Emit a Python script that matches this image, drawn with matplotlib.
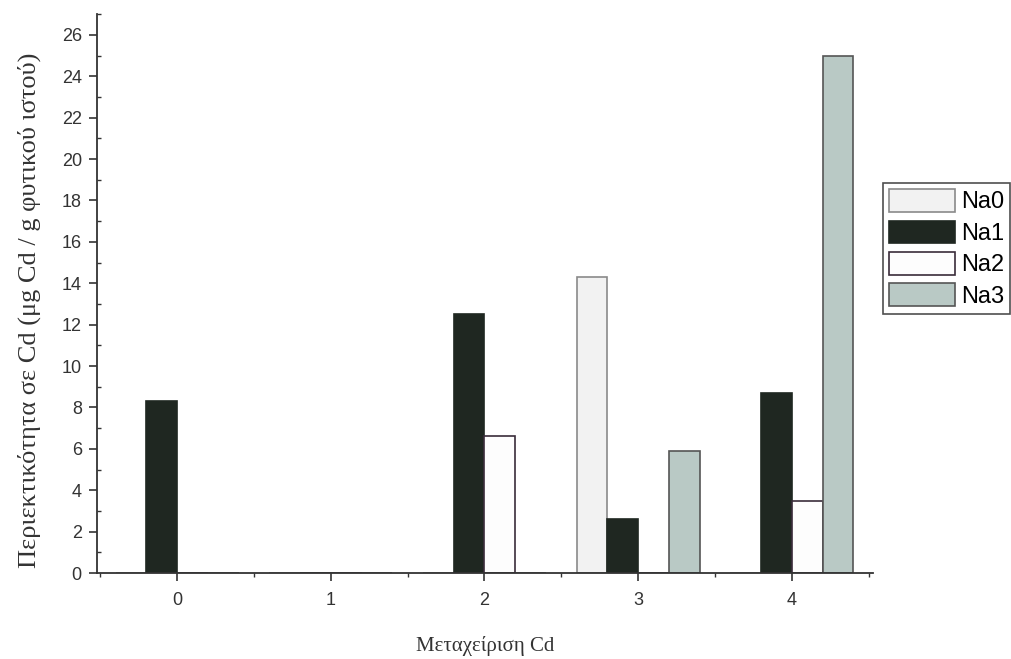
import numpy as np
import matplotlib
matplotlib.use("Agg")
import matplotlib.pyplot as plt
from matplotlib.ticker import MultipleLocator

# data
treatments = [0, 1, 2, 3, 4]
series = ["Na0", "Na1", "Na2", "Na3"]
na0 = [0, 0, 0, 14.3, 0]
na1 = [8.3, 0, 12.5, 2.6, 8.7]
na2 = [0, 0, 6.6, 0, 3.5]
na3 = [0, 0, 0, 5.9, 25.0]

faces = ["#f2f2f2", "#1f2721", "#fdfdfd", "#b9c9c5"]
edges = ["#8a8a8a", "#1f2721", "#3a2c3a", "#555555"]

fig = plt.figure(figsize=(10.12, 6.59), dpi=100)
ax = fig.add_axes([0.096, 0.1305, 0.767, 0.848])

w = 0.2
x = np.array(treatments, dtype=float)
offsets = [-1.5 * w, -0.5 * w, 0.5 * w, 1.5 * w]
for vals, off, fc, ec, name in zip([na0, na1, na2, na3], offsets, faces, edges, series):
    ax.bar(x + off, vals, width=w, facecolor=fc, edgecolor=ec, linewidth=1.2, label=name)

ax.set_xlim(-0.52, 4.53)
ax.set_ylim(0, 27)
ax.spines["top"].set_visible(False)
ax.spines["right"].set_visible(False)
for s in ("left", "bottom"):
    ax.spines[s].set_color("#333333")
    ax.spines[s].set_linewidth(1.3)

ax.set_xticks(treatments)
ax.xaxis.set_minor_locator(MultipleLocator(0.5))
ax.yaxis.set_major_locator(MultipleLocator(2))
ax.yaxis.set_minor_locator(MultipleLocator(1))
ax.tick_params(axis="both", which="major", direction="out", length=6, width=1.2,
               colors="#333333", labelsize=13)
ax.tick_params(axis="x", which="major", pad=8)
ax.tick_params(axis="y", which="major", pad=5)
ax.tick_params(axis="x", which="minor", direction="out", length=3, width=1, colors="#333333")
ax.tick_params(axis="y", which="minor", direction="in", length=3, width=1, colors="#333333")
for lab in ax.get_xticklabels() + ax.get_yticklabels():
    lab.set_family("Liberation Sans")

ax.set_xlabel("Μεταχείριση Cd", family="Liberation Serif", fontsize=15,
              color="#333333", labelpad=19)
ax.set_ylabel("Περιεκτικότητα σε Cd (μg Cd / g φυτικού ιστού)", family="Liberation Serif",
              fontsize=19, color="#333333")
ax.yaxis.set_label_coords(-0.072, 0.47)

leg = fig.legend(loc="upper left", bbox_to_anchor=(0.8725, 0.722), frameon=True,
                 fancybox=False, edgecolor="#222222",
                 prop={"family": "Liberation Sans", "size": 17},
                 handlelength=2.8, handleheight=1.1, handletextpad=0.25,
                 labelspacing=0.3, borderpad=0.25, borderaxespad=0)
leg.get_frame().set_linewidth(1.2)

fig.savefig("out.png", dpi=100)
